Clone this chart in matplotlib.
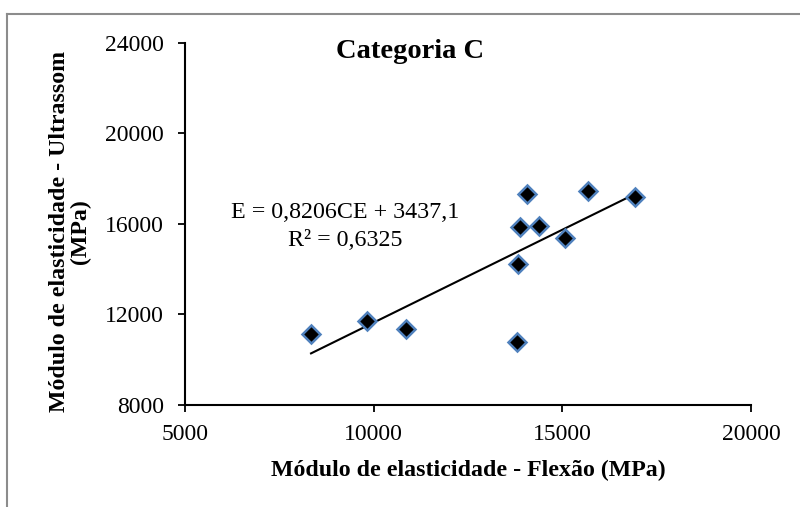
import numpy as np
import matplotlib.pyplot as plt
from matplotlib.lines import Line2D

# dados
flexao = [8340, 9830, 10860, 13790, 13820, 13890, 14060, 14380, 15070, 15690, 16930]
ultrassom = [11140, 11730, 11350, 10800, 14230, 15850, 17330, 15920, 15400, 17470, 17180]
coef_a = 0.8206
coef_b = 3437.1
xticks = [5000, 10000, 15000, 20000]
yticks = [8000, 12000, 16000, 20000, 24000]

plt.rcParams['font.family'] = ['Liberation Serif', 'DejaVu Serif']

fig = plt.figure(figsize=(8, 5.07), dpi=100)
ax = fig.add_axes([0.23125, 0.2012, 0.7075, 0.714])

# linha de tendencia
xs = np.array([min(flexao), max(flexao)])
ax.plot(xs, coef_a * xs + coef_b, color='black', lw=1.5, zorder=2)

ax.plot(flexao, ultrassom, linestyle='none', marker='D', markersize=9.5,
        markerfacecolor='black', markeredgecolor='#4F81BD', markeredgewidth=1.8, zorder=3)

ax.set_xlim(5000, 20000)
ax.set_ylim(8000, 24000)
ax.set_xticks(xticks)
ax.set_yticks(yticks)
ax.tick_params(direction='out', length=5, width=1.3, labelsize=17)
ax.tick_params(axis='y', pad=10)
ax.tick_params(axis='x', pad=9)

for s in ['top', 'right']:
    ax.spines[s].set_visible(False)
for s in ['left', 'bottom']:
    ax.spines[s].set_linewidth(1.5)

fig.text(468 / 800, 1 - 470 / 507, 'Módulo de elasticidade - Flexão (MPa)', fontsize=17.2,
         fontweight='bold', ha='center', va='center')
fig.text(70 / 800, 1 - 232 / 507, 'Módulo de elasticidade - Ultrassom\n(MPa)', fontsize=17.2,
         fontweight='bold', rotation=90, ha='center', va='center', multialignment='center',
         linespacing=1.05)

fig.text(410 / 800, 1 - 52 / 507, 'Categoria C', fontsize=20.5, fontweight='bold',
         ha='center', va='center')
fig.text(345 / 800, 1 - 213 / 507, 'E = 0,8206CE + 3437,1', fontsize=17.3,
         ha='center', va='center')
fig.text(345 / 800, 1 - 241 / 507, 'R² = 0,6325', fontsize=17.3,
         ha='center', va='center')

# moldura cinza
fig.add_artist(Line2D([7 / 800, 1.0], [1 - 14 / 507, 1 - 14 / 507], color='#8c8c8c', lw=1.5))
fig.add_artist(Line2D([7 / 800, 7 / 800], [0.0, 1 - 14 / 507], color='#8c8c8c', lw=1.5))

fig.savefig('out.png', dpi=100)
